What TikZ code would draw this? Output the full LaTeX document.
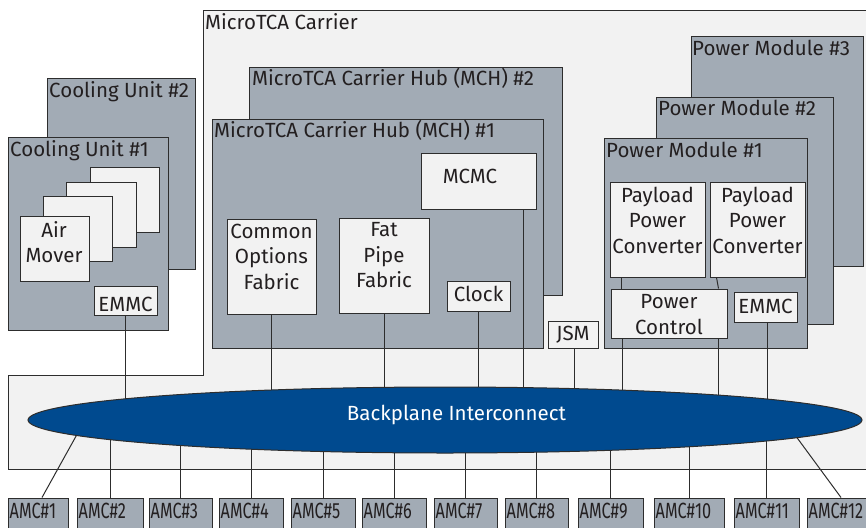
\documentclass[tikz,border=0pt]{standalone}
\usepackage{fontspec}
\setmainfont{Fira Sans}
\usepackage{graphicx}
\usetikzlibrary{fit,shapes.geometric}
\definecolor{modgray}{RGB}{162,171,181}
\definecolor{lightbox}{RGB}{242,242,242}
\definecolor{edge}{RGB}{45,45,45}
\definecolor{bpblue}{RGB}{0,74,143}
\definecolor{ink}{RGB}{35,31,32}
\newcommand\bx[6]{\node[#6, fit={(#2,#3)(#4,#5)}] (#1) {};}
\newcommand\amcname[1]{\scalebox{0.74}[1]{AMC\##1}}
\begin{document}
\begin{tikzpicture}[x=1pt,y=-1pt,
  module/.style={draw=edge, fill=modgray, line width=1pt, inner sep=0pt},
  part/.style={draw=edge, fill=lightbox, line width=1pt, inner sep=0pt},
  lbl/.style={text=ink, inner sep=0pt, font=\fontsize{20.5}{25.5}\selectfont},
  mlbl/.style={lbl, align=center},
  wire/.style={draw=edge, line width=1pt},
  amclbl/.style={text=ink, inner sep=0pt, font=\fontsize{22}{22}\selectfont}]
\useasboundingbox (0,0) rectangle (866,527);
\clip (0,0) rectangle (866,527);
% carrier
\draw[fill=lightbox, draw=edge, line width=1pt] (203,11) -- (872,11) -- (872,469) -- (8,469) -- (8,375) -- (203,375) -- cycle;
\node[lbl, anchor=base west] (carrierlbl) at (205,30) {MicroTCA Carrier};
% cooling units
\bx{cu2}{47}{78}{195}{269}{module}
\node[lbl, anchor=base west] (cu2lbl) at (49,97) {Cooling Unit \#2};
\bx{cu1}{8}{137}{168}{330}{module}
\node[lbl, anchor=base west] (cu1lbl) at (10,156) {Cooling Unit \#1};
\bx{am4}{90}{167}{159}{232}{part}
\bx{am3}{66}{182}{136}{247}{part}
\bx{am2}{43}{196}{112}{261}{part}
\bx{am1}{20}{216}{89}{281}{part}
\node[mlbl] (am1lbl) at (54,242) {Air\\Mover};
\bx{emmca}{94}{286}{157}{315}{part}
\node[lbl, anchor=base] (emmcalbl) at (125.5,311) {EMMC};
% MCH
\bx{mch2}{249}{67}{562}{295}{module}
\node[lbl, anchor=base west] (mch2lbl) at (252,85) {MicroTCA Carrier Hub (MCH) \#2};
\bx{mch1}{212}{119}{543}{348}{module}
\node[lbl, anchor=base west] (mch1lbl) at (214,137) {MicroTCA Carrier Hub (MCH) \#1};
\bx{mcmc}{421}{153}{536}{209}{part}
\node[lbl, anchor=base] (mcmclbl) at (470,183) {MCMC};
\bx{cof}{227}{219}{316}{314}{part}
\node[mlbl] (coflbl) at (271.5,256.5) {Common\\Options\\Fabric};
\bx{fpf}{339}{218}{429}{313}{part}
\node[mlbl] (fpflbl) at (384,255.5) {Fat\\Pipe\\Fabric};
\bx{clk}{447}{281}{510}{311}{part}
\node[lbl, anchor=base] (clklbl) at (478.5,301) {Clock};
\bx{jsm}{548}{321}{598}{348}{part}
\node[lbl, anchor=base] (jsmlbl) at (573,340) {JSM};
% power modules
\bx{pm3}{691}{37}{863}{266}{module}
\node[lbl, anchor=base west] (pm3lbl) at (692,56) {Power Module \#3};
\bx{pm2}{656}{97}{833}{324}{module}
\node[lbl, anchor=base west] (pm2lbl) at (658,115) {Power Module \#2};
\bx{pm1}{604}{138}{807}{348}{module}
\node[lbl, anchor=base west] (pm1lbl) at (606,157) {Power Module \#1};
\bx{ppca}{610}{182}{705}{277}{part}
\node[mlbl] (ppcalbl) at (657.5,220) {Payload\\Power\\Converter};
\bx{ppcb}{710}{182}{805}{277}{part}
\node[mlbl] (ppcblbl) at (757.5,220) {Payload\\Power\\Converter};
\bx{pc}{611}{289}{727}{338}{part}
\node[mlbl] (pclbl) at (669,314.5) {Power\\Control};
\bx{emmcb}{734}{292}{797}{322}{part}
\node[lbl, anchor=base] (emmcblbl) at (765.5,313) {EMMC};
\draw[wire] ([xshift=12pt]ppca.south west) -- ([xshift=11pt]pc.north west);
\draw[wire] ([xshift=7pt]ppcb.south west) -- ([xshift=-9pt]pc.north east);
% AMC boxes
\foreach \n/\a/\b in {1/8/68,2/77/143,3/149/212,4/219/283,5/291/355,6/362/426,7/434/497,8/505/568,9/578/643,10/654/724,11/734/799,12/807/870}{
  \bx{amc\n}{\a}{498}{\b}{540}{module}
  \node[amclbl, anchor=base west] (amclbl\n) at (\a+1.5,518) {\amcname{\n}};
}
% ellipse placeholder coordinates
\coordinate (bpc) at (445,420);
\coordinate (a1e) at (85,420);
\coordinate (a12e) at (784,420);
% connectors to backplane (drawn under the ellipse)
\draw[wire] (emmca.south) -- (emmca.south |- bpc);
\draw[wire] (cof.south) -- (cof.south |- bpc);
\draw[wire] (fpf.south) -- (fpf.south |- bpc);
\draw[wire] (clk.south) -- (clk.south |- bpc);
\draw[wire] ([xshift=-13pt]mcmc.south east) -- ([xshift=-13pt]mcmc.south east |- bpc);
\draw[wire] ([xshift=1pt]jsm.south) -- ([xshift=1pt]jsm.south |- bpc);
\draw[wire] ([xshift=12pt]pc.south west) -- ([xshift=12pt]pc.south west |- bpc);
\draw[wire] ([xshift=-9pt]pc.south east) -- ([xshift=-9pt]pc.south east |- bpc);
\draw[wire] ([xshift=1.5pt]emmcb.south) -- ([xshift=1.5pt]emmcb.south |- bpc);
\draw[wire] ([xshift=4pt]amc1.north) -- (a1e);
\foreach \n in {2,...,11}{\draw[wire] (amc\n.north) -- (amc\n.north |- bpc);}
\draw[wire] ([xshift=2.5pt]amc12.north) -- (a12e);
% backplane
\node[draw=edge, fill=bpblue, line width=1pt, ellipse, inner sep=0pt, minimum width=834, minimum height=66] (bp) at (bpc) {};
\node[lbl, text=white, anchor=base] (bplbl) at (456.5,420) {Backplane Interconnect};
\end{tikzpicture}
\end{document}
